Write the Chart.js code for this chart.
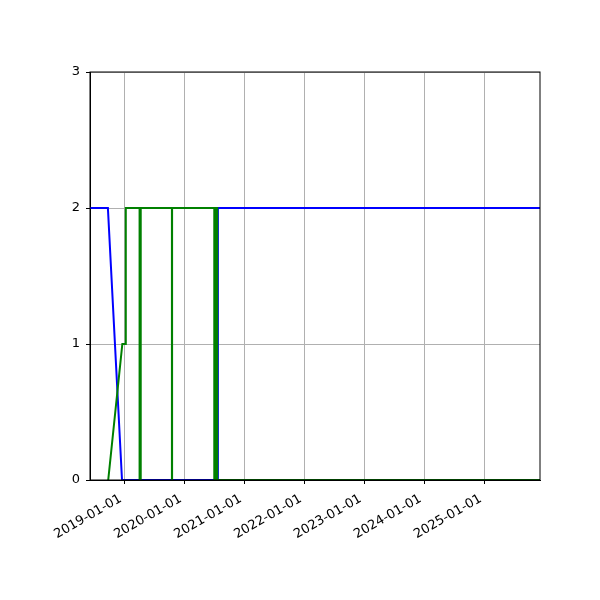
<!DOCTYPE html>
<html lang="en">
<head>
<meta charset="UTF-8" />
<title>Step lines</title>
<script src="https://cdn.jsdelivr.net/npm/chart.js"></script>
<style>
  body { margin: 0; background: #fff; }
  #wrap { width: 600px; height: 600px; }
</style>
</head>
<body>
<div id="wrap"><canvas id="chart" width="600" height="600"></canvas></div>
<script>
// data
const blueDates  = ["2018-06-06", "2018-09-23", "2018-12-18", "2020-07-24", "2020-07-24", "2025-12-07"];
const blueValues = [2, 2, 0, 0, 2, 2];

const greenDates  = ["2018-09-25", "2018-12-20", "2019-01-10", "2019-01-10", "2019-04-04", "2019-04-04",
                     "2019-04-11", "2019-04-11", "2019-10-18", "2019-10-18", "2019-10-19", "2019-10-19",
                     "2020-07-02", "2020-07-02", "2020-07-08", "2020-07-08", "2020-07-20", "2020-07-20", "2025-12-07"];
const greenValues = [0, 1, 1, 2, 2, 0,
                     0, 2, 2, 0, 0, 2,
                     2, 0, 0, 2, 2, 0, 0];

const tickLabels = ["2019-01-01", "2020-01-01", "2021-01-01", "2022-01-01", "2023-01-01", "2024-01-01", "2025-01-01"];
const yTicks = [0, 1, 2, 3];

const xMin = "2018-06-06";
const xMax = "2025-12-07";

function ts(s) {
  const p = s.split("-").map(Number);
  return Date.UTC(p[0], p[1] - 1, p[2]);
}
function points(dates, vals) {
  return dates.map((d, i) => ({ x: ts(d), y: vals[i] }));
}

const frame = {
  id: "frame",
  afterDraw(chart) {
    const a = chart.chartArea, c = chart.ctx;
    c.save();
    c.strokeStyle = "#000";
    c.lineWidth = 1;
    c.strokeRect(a.left, a.top, a.right - a.left, a.bottom - a.top);
    c.restore();
  }
};

const font = { family: "DejaVu Sans", size: 13 };

new Chart(document.getElementById("chart"), {
  type: "line",
  data: {
    datasets: [
      {
        data: points(blueDates, blueValues),
        borderColor: "#0000ff",
        borderWidth: 2,
        pointRadius: 0,
        tension: 0,
        order: 2
      },
      {
        data: points(greenDates, greenValues),
        borderColor: "#008000",
        borderWidth: 2,
        pointRadius: 0,
        tension: 0,
        order: 1
      }
    ]
  },
  options: {
    responsive: false,
    animation: false,
    layout: { padding: { left: 0, top: 72, right: 60, bottom: 0 } },
    plugins: { legend: { display: false }, tooltip: { enabled: false } },
    scales: {
      x: {
        type: "linear",
        min: ts(xMin),
        max: ts(xMax),
        afterBuildTicks(axis) {
          axis.ticks = tickLabels.map(t => ({ value: ts(t) }));
        },
        afterFit(axis) { axis.height = 120; },
        grid: { color: "#b0b0b0", lineWidth: 1, tickColor: "#000", tickLength: 4 },
        border: { color: "#000" },
        ticks: {
          autoSkip: false,
          minRotation: 30,
          maxRotation: 30,
          color: "#000",
          font: font,
          padding: 5,
          callback(v) {
            const i = tickLabels.findIndex(t => ts(t) === v);
            // trailing space nudges the rotated label a little left of the tick
            return i >= 0 ? tickLabels[i] + " " : "";
          }
        }
      },
      y: {
        min: 0,
        max: 3,
        afterBuildTicks(axis) {
          axis.ticks = yTicks.map(v => ({ value: v }));
        },
        afterFit(axis) { axis.width = 90; },
        grid: { color: "#b0b0b0", lineWidth: 1, tickColor: "#000", tickLength: 4 },
        border: { color: "#000" },
        ticks: { color: "#000", font: font, padding: 6 }
      }
    }
  },
  plugins: [frame]
});
</script>
</body>
</html>
